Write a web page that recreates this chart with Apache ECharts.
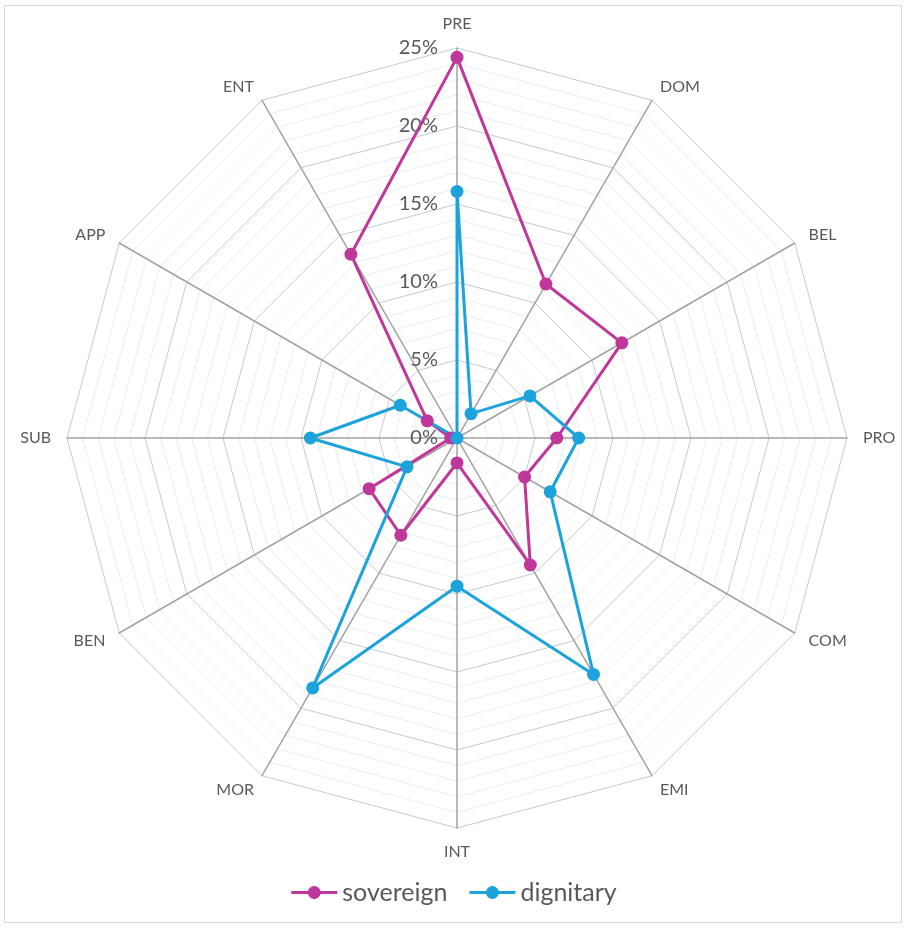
<!DOCTYPE html>
<html>
<head>
<meta charset="utf-8">
<script src="https://cdn.jsdelivr.net/npm/echarts@6/dist/echarts.min.js"></script>
<style>
  html, body { margin: 0; padding: 0; background: #fff; }
  #frame {
    position: absolute; left: 4px; top: 5px; width: 898px; height: 918px;
    border: 1px solid #d9d9d9; box-sizing: border-box;
  }
  #chart { width: 908px; height: 929px; }
</style>
</head>
<body>
<div id="frame"></div>
<div id="chart"></div>
<script>
// categories in clockwise order starting at the top
const categories = ['PRE', 'DOM', 'BEL', 'PRO', 'COM', 'EMI', 'INT', 'MOR', 'BEN', 'SUB', 'APP', 'ENT']
const sovereign = [24.4, 11.4, 12.2, 6.4, 5.0, 9.4, 1.6, 7.2, 6.5, 0.4, 2.2, 13.6]
const dignitary = [15.8, 1.8, 5.4, 7.8, 6.9, 17.5, 9.5, 18.5, 3.7, 9.4, 4.2, 0]
const tickLabels = ['0%', '5%', '10%', '15%', '20%', '25%']

const axisMax = 25
const textColor = '#595959'
const magenta = '#c0379b'
const blue = '#1ca3dc'

// line with a dot, like the series markers
const legendIcon = 'path://M0,5.5 L46,5.5 L46,8.5 L0,8.5 Z M23,0.5 A6.5,6.5 0 1,1 22.99,0.5 Z'

// echarts radar places indicators counter-clockwise, flip to clockwise
const cw = arr => [arr[0], ...arr.slice(1).reverse()]

// darker ring every 5%, light ring every 1%
const ringColors = []
for (let i = 0; i <= axisMax; i++) {
  ringColors.push(i % 5 === 0 ? '#c0cbd5' : '#e6edf3')
}

const indicator = cw(categories).map((name, i) => ({
  name,
  max: axisMax,
  min: 0,
  axisLabel: i === 0
    ? {
        show: true,
        color: textColor,
        fontSize: 20,
        margin: 19,
        formatter: v => (v % 5 === 0 ? tickLabels[v / 5] : ''),
      }
    : { show: false },
}))

const chart = echarts.init(document.getElementById('chart'))
chart.setOption({
  animation: false,
  textStyle: { fontFamily: 'Lato, "Open Sans", sans-serif' },
  legend: {
    bottom: 19,
    itemWidth: 46,
    itemHeight: 14,
    itemGap: 22,
    icon: legendIcon,
    textStyle: { color: textColor, fontSize: 25 },
    data: ['sovereign', 'dignitary'],
  },
  radar: {
    center: [457, 438],
    radius: 390,
    shape: 'polygon',
    splitNumber: axisMax,
    indicator,
    axisName: { color: textColor, fontSize: 16 },
    nameGap: 16,
    axisLine: { lineStyle: { color: '#a3a3a3', width: 1.5 } },
    axisTick: { show: false },
    axisLabel: { show: false },
    splitLine: { lineStyle: { color: ringColors, width: 1 } },
    splitArea: { show: false },
  },
  series: [
    {
      type: 'radar',
      symbol: 'circle',
      symbolSize: 13,
      data: [
        {
          name: 'sovereign',
          value: cw(sovereign),
          itemStyle: { color: magenta },
          lineStyle: { color: magenta, width: 3 },
        },
        {
          name: 'dignitary',
          value: cw(dignitary),
          itemStyle: { color: blue },
          lineStyle: { color: blue, width: 3 },
        },
      ],
    },
  ],
})
</script>
</body>
</html>
